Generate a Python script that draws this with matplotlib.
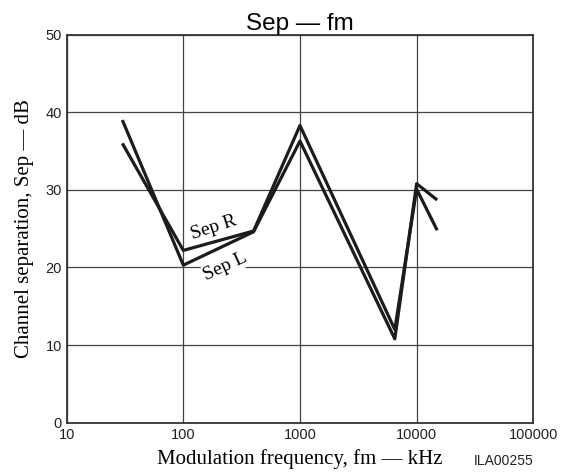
import matplotlib

matplotlib.use("Agg")
import matplotlib.pyplot as plt

# curve data (x in kHz, y in dB)
SEP_R_FM = [30, 100, 400, 1000, 6500, 10000, 15000]
SEP_R_DB = [36.0, 22.2, 24.7, 38.3, 12.0, 30.1, 24.8]
SEP_L_FM = [30, 100, 400, 1000, 6500, 10000, 15000]
SEP_L_DB = [39.0, 20.3, 24.6, 36.3, 10.8, 30.8, 28.7]

X_TICKS = [10, 100, 1000, 10000, 100000]
X_TICK_LABELS = ["10", "100", "1000", "10000", "100000"]
Y_TICKS = [0, 10, 20, 30, 40, 50]

SERIF = ["Liberation Serif", "DejaVu Serif"]
SANS = ["Liberation Sans", "DejaVu Sans"]
LINE_COLOR = "#1c1c1c"


def main() -> None:
    fig = plt.figure(figsize=(5.69, 4.72), dpi=100)
    ax = fig.add_axes([0.1172, 0.1045, 0.8200, 0.8220])

    for fm, db in ((SEP_R_FM, SEP_R_DB), (SEP_L_FM, SEP_L_DB)):
        ax.plot(fm, db, color=LINE_COLOR, linewidth=2.3,
                solid_joinstyle="round", solid_capstyle="butt", zorder=3)

    ax.text(183, 25.1, "Sep R", rotation=18, ha="center", va="center",
            fontsize=14, family=SERIF, zorder=4)
    ax.text(227, 20.1, "Sep L", rotation=25, ha="center", va="center",
            fontsize=14, family=SERIF, zorder=4,
            bbox={"boxstyle": "square,pad=0.05", "facecolor": "white",
                  "edgecolor": "none"})

    ax.set_xscale("log")
    ax.set_xlim(10, 100000)
    ax.set_ylim(0, 50)
    ax.set_xticks(X_TICKS)
    ax.set_xticklabels(X_TICK_LABELS)
    ax.minorticks_off()
    ax.set_yticks(Y_TICKS)
    ax.tick_params(length=0, labelsize=10.5, colors="#222222")
    ax.tick_params(axis="x", pad=4)
    ax.tick_params(axis="y", pad=3.5)
    for label in ax.get_xticklabels() + ax.get_yticklabels():
        label.set_family(SANS)

    ax.grid(True, color="#444444", linewidth=0.9)
    ax.set_axisbelow(True)
    for spine in ax.spines.values():
        spine.set_color("#333333")
        spine.set_linewidth(1.3)

    ax.set_xlabel("Modulation frequency, fm — kHz", fontsize=15,
                  family=SERIF, labelpad=5)
    ax.set_ylabel("Channel separation, Sep — dB", fontsize=15,
                  family=SERIF, labelpad=8)
    ax.set_title("Sep — fm", fontsize=17.5, family=SANS, pad=2)

    fig.text(533.3 / 569, 7 / 472, "ILA00255", ha="right", va="baseline",
             fontsize=10, family=SANS, color="#222222")

    fig.savefig("out.png", dpi=100)


if __name__ == "__main__":
    main()
